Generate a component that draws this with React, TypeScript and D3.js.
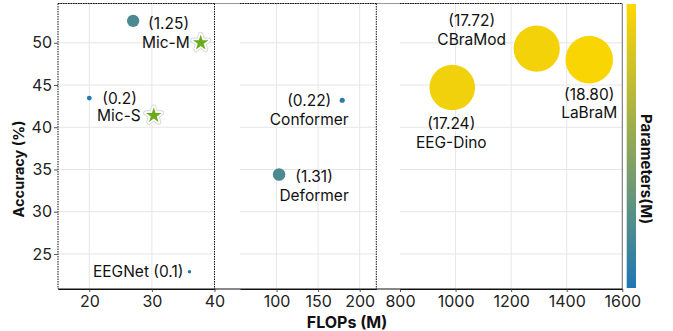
import * as d3 from "d3";
import React, { useEffect, useRef } from "react";

// data
const models = ["EEGNet", "Mic-S", "Mic-M", "Conformer", "Deformer", "EEG-Dino", "CBraMod", "LaBraM"];
const flops = [36, 20, 27, 179, 103, 988, 1292, 1481];
const accuracy = [22.9, 43.45, 52.6, 43.2, 34.4, 44.7, 49.3, 48.0];
const params = [0.1, 0.2, 1.25, 0.22, 1.31, 17.24, 17.72, 18.8];
const paramText = ["(0.1)", "(0.2)", "(1.25)", "(0.22)", "(1.31)", "(17.24)", "(17.72)", "(18.80)"];

const starNames = ["Mic-S", "Mic-M"];
const starFlops = [30.3, 37.8];
const starAcc = [41.4, 50.0];

const yTicks = [25, 30, 35, 40, 45, 50];
const xTicks1 = [20, 30, 40];
const xTicks2 = [100, 150, 200];
const xTicks3 = [800, 1000, 1200, 1400, 1600];

// label placement (offsets from the mark)
const labelLayout: Record<string, { name: boolean; dx: number; dy: number[]; anchor: string }> = {
  EEGNet: { name: true, dx: -6, dy: [0], anchor: "end" },
  "Mic-S": { name: false, dx: 13, dy: [0], anchor: "start" },
  "Mic-M": { name: false, dx: 15, dy: [3], anchor: "start" },
  Conformer: { name: true, dx: -33, dy: [0, 19], anchor: "middle" },
  Deformer: { name: true, dx: 35, dy: [1.5, 21], anchor: "middle" },
  "EEG-Dino": { name: true, dx: -1, dy: [36, 55], anchor: "middle" },
  CBraMod: { name: true, dx: -65, dy: [-28, -9], anchor: "middle" },
  LaBraM: { name: true, dx: 0, dy: [35, 53], anchor: "middle" },
};

export default function App() {
  const ref = useRef<SVGSVGElement>(null);

  useEffect(() => {
    const svg = d3.select(ref.current);
    svg.selectAll("*").remove();
    const font = "Inter, 'DejaVu Sans', sans-serif";

    const top = 3.5, bottom = 289;
    const y = d3.scaleLinear().domain([20.85, 54.65]).range([bottom, top]);

    // three broken x panels
    const x1 = d3.scaleLinear().domain([15, 40]).range([58, 214.5]);
    const x2 = d3.scaleLinear().domain([56, 220]).range([240, 376.3]);
    const x3 = d3.scaleLinear().domain([800, 1600]).range([400, 622.3]);
    const xPos = (f: number) => (f <= 40 ? x1(f) : f <= 250 ? x2(f) : x3(f));

    const r = d3.scaleSqrt().domain([0, 18.8]).range([0, 23.8]);
    const cmap = d3.interpolateRgb("#1f77b4", "#ffd700");
    const color = d3.scaleSequentialSqrt(cmap).domain([0.1, 19.6]);

    const grid = "#e6e6e6";
    const g = svg.append("g");

    // horizontal grid per panel
    [x1, x2, x3].forEach((sc) => {
      g.append("g")
        .selectAll("line")
        .data(yTicks)
        .join("line")
        .attr("x1", sc.range()[0])
        .attr("x2", sc.range()[1])
        .attr("y1", (d) => y(d))
        .attr("y2", (d) => y(d))
        .attr("stroke", grid);
    });
    // vertical grid
    const vg: [d3.ScaleLinear<number, number>, number[]][] = [
      [x1, [20, 30]],
      [x2, xTicks2],
      [x3, [1000, 1200, 1400]],
    ];
    vg.forEach(([sc, ts]) => {
      g.append("g")
        .selectAll("line")
        .data(ts)
        .join("line")
        .attr("x1", (d) => sc(d))
        .attr("x2", (d) => sc(d))
        .attr("y1", top)
        .attr("y2", bottom)
        .attr("stroke", grid);
    });

    // frame
    g.append("line").attr("x1", 58).attr("x2", 622.3).attr("y1", top).attr("y2", top).attr("stroke", "#999").attr("stroke-width", 1.2);
    [x1, x2, x3].forEach((sc) => {
      g.append("line")
        .attr("x1", sc.range()[0]).attr("x2", sc.range()[1])
        .attr("y1", top).attr("y2", top)
        .attr("stroke", "#111").attr("stroke-dasharray", "1.5,1");
    });
    [58, 214.5, 376.3].forEach((xx) => {
      g.append("line")
        .attr("x1", xx).attr("x2", xx).attr("y1", top).attr("y2", bottom)
        .attr("stroke", "#111").attr("stroke-dasharray", "1.5,1");
    });
    g.append("line").attr("x1", 622.3).attr("x2", 622.3).attr("y1", top).attr("y2", bottom).attr("stroke", "#444").attr("stroke-width", 0.8);

    // y axis
    g.append("g")
      .attr("transform", "translate(58,0)")
      .call(d3.axisLeft(y).tickValues(yTicks).tickSize(4).tickPadding(2))
      .call((a) => a.select(".domain").remove())
      .call((a) => a.selectAll(".tick line").attr("stroke", "#555"))
      .selectAll("text")
      .style("font-family", font)
      .style("font-size", "16px")
      .attr("fill", "#222");

    // x axes
    const xAxes: [d3.ScaleLinear<number, number>, number[]][] = [
      [x1, xTicks1],
      [x2, xTicks2],
      [x3, xTicks3],
    ];
    xAxes.forEach(([sc, ts]) => {
      g.append("g")
        .attr("transform", `translate(0,${bottom})`)
        .call(d3.axisBottom(sc).tickValues(ts).tickFormat(d3.format("d")).tickSize(3).tickPadding(4).tickSizeOuter(0))
        .call((a) => a.select(".domain").attr("stroke", "#111"))
        .call((a) => a.selectAll(".tick line").attr("stroke", "#555"))
        .selectAll("text")
        .style("font-family", font)
        .style("font-size", "16px")
        .attr("fill", "#222");
    });
    g.append("line").attr("x1", 58).attr("x2", 622.3).attr("y1", bottom).attr("y2", bottom).attr("stroke", "#111");

    // bubbles
    const idx = d3.range(models.length);
    g.append("g")
      .selectAll("circle")
      .data(idx)
      .join("circle")
      .attr("cx", (i) => xPos(flops[i]))
      .attr("cy", (i) => y(accuracy[i]))
      .attr("r", (i) => r(params[i]))
      .attr("fill", (i) => color(params[i]));

    // stars
    const star = d3.symbol().type(d3.symbolStar).size(75);
    const sg = g.append("g");
    d3.range(starNames.length).forEach((i) => {
      const t = `translate(${xPos(starFlops[i])},${y(starAcc[i])})`;
      sg.append("path").attr("d", star()).attr("transform", t).attr("fill", "none").attr("stroke", "#d8d8d8").attr("stroke-width", 5.5).attr("stroke-linejoin", "round");
      sg.append("path").attr("d", star()).attr("transform", t).attr("fill", "#6aab1a").attr("stroke", "#fff").attr("stroke-width", 3.5).attr("stroke-linejoin", "round").attr("paint-order", "stroke");
      sg.append("text")
        .attr("x", xPos(starFlops[i]) - (i === 0 ? 13 : 11))
        .attr("y", y(starAcc[i]))
        .attr("text-anchor", "end")
        .attr("dominant-baseline", "central")
        .style("font-family", font)
        .style("font-size", "15.5px")
        .attr("fill", "#111")
        .text(starNames[i]);
    });

    // bubble labels
    idx.forEach((i) => {
      const l = labelLayout[models[i]];
      const lines =
        models[i] === "EEGNet"
          ? [`${models[i]} ${paramText[i]}`]
          : l.name
          ? [paramText[i], models[i]]
          : [paramText[i]];
      lines.forEach((line, k) => {
        g.append("text")
          .attr("x", xPos(flops[i]) + l.dx)
          .attr("y", y(accuracy[i]) + l.dy[k])
          .attr("text-anchor", l.anchor)
          .attr("dominant-baseline", "central")
          .style("font-family", font)
          .style("font-size", "15.5px")
          .attr("fill", "#111")
          .text(line);
      });
    });

    // axis titles
    g.append("text")
      .attr("transform", `translate(18,169) rotate(-90)`)
      .attr("text-anchor", "middle")
      .attr("dominant-baseline", "central")
      .style("font-family", font)
      .style("font-size", "14.5px")
      .style("font-weight", "bold")
      .attr("fill", "#111")
      .text("Accuracy (%)");
    g.append("text")
      .attr("x", 347)
      .attr("y", 322)
      .attr("text-anchor", "middle")
      .attr("dominant-baseline", "central")
      .style("font-family", font)
      .style("font-size", "16px")
      .style("font-weight", "bold")
      .attr("fill", "#111")
      .text("FLOPs (M)");

    // colorbar
    const defs = svg.append("defs");
    const grad = defs.append("linearGradient").attr("id", "cb").attr("x1", 0).attr("x2", 0).attr("y1", 1).attr("y2", 0);
    d3.range(0, 1.001, 0.1).forEach((t) => {
      grad.append("stop").attr("offset", t).attr("stop-color", cmap(t));
    });
    g.append("rect").attr("x", 626.7).attr("y", 4).attr("width", 9.3).attr("height", 284).attr("fill", "url(#cb)");
    g.append("text")
      .attr("transform", `translate(646,169) rotate(90)`)
      .attr("text-anchor", "middle")
      .attr("dominant-baseline", "central")
      .style("font-family", font)
      .style("font-size", "15px")
      .style("font-weight", "bold")
      .attr("fill", "#111")
      .text("Parameters(M)");
  }, []);

  return (
    <svg ref={ref} width={673} height={331} style={{ position: "absolute", left: 0, top: 0 }}></svg>
  );
}
